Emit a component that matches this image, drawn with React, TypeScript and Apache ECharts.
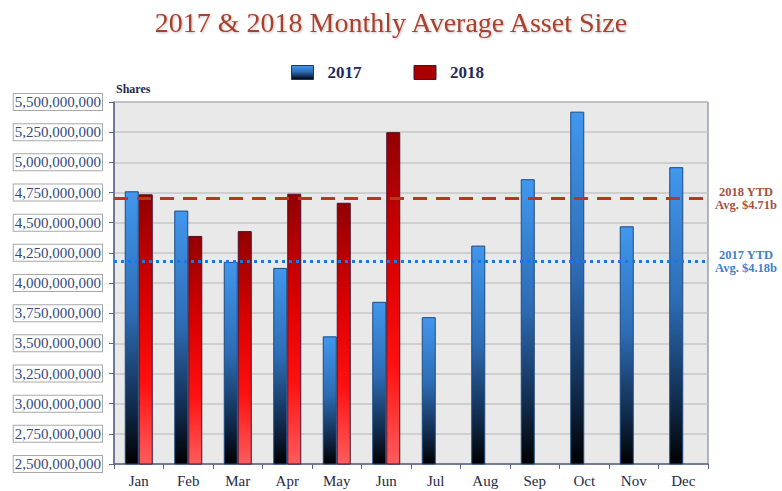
import React, { useEffect, useRef } from "react";
import * as echarts from "echarts";

const months = ["Jan", "Feb", "Mar", "Apr", "May", "Jun", "Jul", "Aug", "Sep", "Oct", "Nov", "Dec"];
const values2017 = [4760e6, 4600e6, 4175e6, 4125e6, 3558e6, 3844e6, 3717e6, 4310e6, 4860e6, 5420e6, 4470e6, 4960e6];
const values2018 = [4735e6, 4390e6, 4430e6, 4740e6, 4665e6, 5250e6, null, null, null, null, null, null];
const avg2017 = 4.18e9;
const avg2018 = 4.70e9;
const yMin = 2.5e9;
const yMax = 5.5e9;
const yStep = 2.5e8;

const FONT = "'Liberation Serif', 'Times New Roman', serif";

export default function App() {
  const ref = useRef<HTMLDivElement>(null);
  useEffect(() => {
    if (!ref.current) return;
    const chart = echarts.init(ref.current, undefined, { renderer: "svg" });
    const blueGrad = new echarts.graphic.LinearGradient(0, 0, 0, 1, [
      { offset: 0, color: "#4197ee" },
      { offset: 0.45, color: "#2d6cb4" },
      { offset: 0.8, color: "#10294a" },
      { offset: 1, color: "#000000" },
    ]);
    const redGrad = new echarts.graphic.LinearGradient(0, 0, 0, 1, [
      { offset: 0, color: "#930000" },
      { offset: 0.4, color: "#dd0000" },
      { offset: 0.7, color: "#ff1010" },
      { offset: 1, color: "#ff5c5c" },
    ]);
    chart.setOption({
      animation: false,
      backgroundColor: "#ffffff",
      title: {
        text: "2017 & 2018 Monthly Average Asset Size",
        left: "center",
        top: 3,
        textStyle: {
          fontFamily: FONT,
          fontSize: 28,
          fontWeight: "normal",
          color: "#a8402e",
          textShadowColor: "rgba(0,0,0,0.25)",
          textShadowBlur: 2,
          textShadowOffsetX: 1,
          textShadowOffsetY: 1,
        },
      },
      legend: {
        left: 286,
        top: 59,
        itemWidth: 22,
        itemHeight: 14,
        itemGap: 52,
        icon: "rect",
        textStyle: {
          fontFamily: FONT,
          fontSize: 17,
          fontWeight: "bold",
          color: "#1f2a5c",
          padding: [0, 0, 0, 9],
        },
        data: [
          { name: "2017", itemStyle: { color: blueGrad, borderColor: "#1f3a60", borderWidth: 1 } },
          { name: "2018", itemStyle: { color: "#a80000", borderColor: "#3a1a3a", borderWidth: 1 } },
        ],
      },
      grid: {
        left: 114,
        right: 74,
        top: 102,
        bottom: 27,
        show: true,
        backgroundColor: "#e9e9e9",
        borderColor: "#6a7390",
        borderWidth: 1,
      },
      graphic: [
        {
          type: "text",
          left: 116,
          top: 83,
          style: {
            text: "Shares",
            font: `bold 12px ${FONT}`,
            fill: "#1f2a4a",
          },
        },
      ],
      xAxis: {
        type: "category",
        data: months,
        boundaryGap: true,
        axisLine: { lineStyle: { color: "#5a6788", width: 1.5 } },
        axisTick: { show: true, length: 5, lineStyle: { color: "#5a6788" } },
        axisLabel: {
          fontFamily: FONT,
          fontSize: 15,
          color: "#1f2a4a",
          margin: 9,
        },
      },
      yAxis: {
        type: "value",
        min: yMin,
        max: yMax,
        interval: yStep,
        axisLine: { show: true, lineStyle: { color: "#5a6788", width: 1.5 } },
        axisTick: { show: true, length: 5, lineStyle: { color: "#5a6788" } },
        splitLine: { lineStyle: { color: "#c6c6c6", width: 1.5 } },
        axisLabel: {
          fontFamily: FONT,
          fontSize: 15,
          color: "#334a80",
          margin: 12,
          backgroundColor: "#ffffff",
          borderColor: "#a8a8a8",
          borderWidth: 1,
          padding: [1, 1, 0, 1],
          formatter: (v: number) => v.toLocaleString("en-US"),
        },
      },
      series: [
        {
          name: "2017",
          type: "bar",
          data: values2017,
          barWidth: 14,
          barGap: "0%",
          itemStyle: { color: blueGrad, borderColor: "#1d4a80", borderWidth: 1 },
          markLine: {
            silent: true,
            symbol: "none",
            lineStyle: { color: "#1a78e6", width: 3, type: [3, 4] },
            label: {
              show: true,
              position: "end",
              distance: 38,
              align: "center",
              formatter: "2017 YTD\nAvg. $4.18b",
              fontFamily: FONT,
              fontSize: 12.5,
              fontWeight: "bold",
              lineHeight: 13,
              color: "#3f7fcc",
            },
            data: [{ yAxis: avg2017 }],
          },
        },
        {
          name: "2018",
          type: "bar",
          data: values2018,
          barWidth: 14,
          barGap: "0%",
          itemStyle: { color: redGrad, borderColor: "#4a1030", borderWidth: 1 },
          markLine: {
            silent: true,
            symbol: "none",
            lineStyle: { color: "#b8391a", width: 3, type: [14, 9] },
            label: {
              show: true,
              position: "end",
              distance: 38,
              align: "center",
              formatter: "2018 YTD\nAvg. $4.71b",
              fontFamily: FONT,
              fontSize: 12.5,
              fontWeight: "bold",
              lineHeight: 13,
              color: "#a8503e",
            },
            data: [{ yAxis: avg2018 }],
          },
        },
      ],
    });
    return () => chart.dispose();
  }, []);
  return (
    <div
      ref={ref}
      style={{ position: "fixed", left: 0, top: 0, width: 782, height: 491 }}
    />
  );
}
